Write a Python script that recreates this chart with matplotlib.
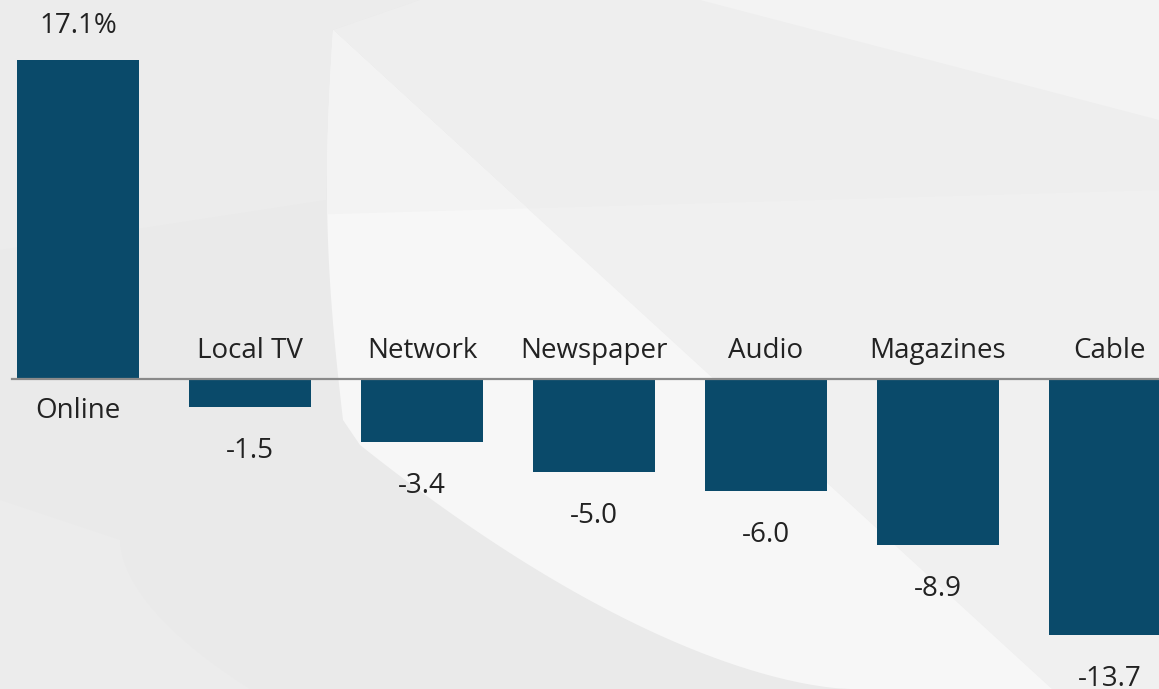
import numpy as np
import matplotlib
matplotlib.use('Agg')
import matplotlib.pyplot as plt
from matplotlib.patches import Polygon

categories = ['Online', 'Local TV', 'Network', 'Newspaper', 'Audio', 'Magazines', 'Cable']
values = [17.1, -1.5, -3.4, -5.0, -6.0, -8.9, -13.7]
value_labels = ['17.1%', '-1.5', '-3.4', '-5.0', '-6.0', '-8.9', '-13.7']

bar_color = '#0a4a6a'
text_color = '#222222'
font = ['Open Sans', 'DejaVu Sans']
fs = 20

fig = plt.figure(figsize=(11.59, 6.89), dpi=100)
fig.patch.set_facecolor('#eaeaea')

# background swooshes (pixel coordinates, y down)
bg = fig.add_axes([0, 0, 1, 1])
bg.set_xlim(0, 1159)
bg.set_ylim(689, 0)
bg.axis('off')

def shape(pts, color, clip=None):
    p = Polygon(pts, closed=True, color=color, lw=0)
    bg.add_patch(p)
    if clip is not None:
        p.set_clip_path(clip)
    return p

t = np.linspace(0, 1, 40)
# top left lighter area
shape([(0, 0), (420, 0), (333, 30), (326, 200), (0, 250)], '#ececec')
# right of the diagonal
right = shape([(333, 30), (420, 0), (1159, 0), (1159, 689), (1052, 689)], '#eeeeee')
shape([(300, 215), (1159, 190), (1159, 689), (300, 689)], '#f0f0f0', clip=right)
shape([(700, 0), (1159, 0), (1159, 120)], '#f3f3f3')
# bright wedge
left_curve = [(333 - 8 * np.sin(np.pi * s) + 10 * s ** 2, 30 + 390 * s) for s in t]
concave = [(360 + 490 * s, 445 + 244 * (1 - (1 - s) ** 1.6)) for s in t]
wedge = shape(left_curve + concave + [(1052, 689)], '#f7f7f7')
shape([(300, 0), (1159, 0), (1159, 190), (300, 215)], '#f3f3f3', clip=wedge)
# soft lower left arc
arc = [(120 + 130 * s ** 1.8, 540 + 149 * s) for s in t]
shape(arc + [(0, 689), (0, 500)], '#ececec')

ax = fig.add_axes([0, 0, 1, 1])
ax.patch.set_alpha(0)
x = np.arange(len(categories))
ax.bar(x, values, width=0.71, color=bar_color, zorder=2)
ax.set_xlim(-0.453, 6.285)
ax.set_ylim(-16.62, 20.32)
ax.axhline(0, xmin=0.01, xmax=1, color='#8a8a8a', lw=1.6, zorder=3)
ax.axis('off')

for xi, v, cat, vl in zip(x, values, categories, value_labels):
    if v >= 0:
        ax.annotate(vl, (xi, v), xytext=(0, 27), textcoords='offset pixels',
                    ha='center', va='baseline', fontsize=fs, color=text_color, family=font)
        ax.annotate(cat, (xi, 0), xytext=(0, -39), textcoords='offset pixels',
                    ha='center', va='baseline', fontsize=fs, color=text_color, family=font)
    else:
        ax.annotate(vl, (xi, v), xytext=(0, -51), textcoords='offset pixels',
                    ha='center', va='baseline', fontsize=fs, color=text_color, family=font)
        ax.annotate(cat, (xi, 0), xytext=(0, 21), textcoords='offset pixels',
                    ha='center', va='baseline', fontsize=fs, color=text_color, family=font)

plt.savefig('out.png', dpi=100)
